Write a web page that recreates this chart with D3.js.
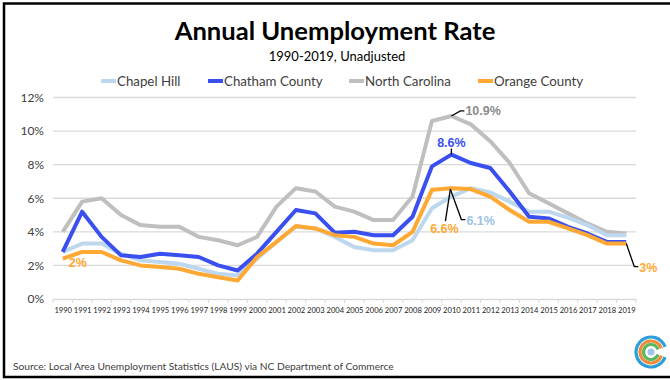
<!DOCTYPE html>
<html><head><meta charset="utf-8">
<script src="https://cdn.jsdelivr.net/npm/d3@7"></script>
<style>html,body{margin:0;padding:0;background:#fff;}svg{display:block;}</style>
</head><body>
<script>
const years = d3.range(1990, 2020).map(String);
const seriesNames = ["Chapel Hill", "Chatham County", "North Carolina", "Orange County"];
const chapelHill = [2.8,3.3,3.3,2.7,2.3,2.2,2.1,1.8,1.5,1.4,2.4,3.4,4.3,4.2,3.7,3.1,2.9,2.9,3.5,5.4,6.1,6.6,6.35,5.8,5.2,5.2,4.85,4.4,3.8,3.8];
const chatham = [2.8,5.2,3.7,2.6,2.5,2.7,2.6,2.5,2.0,1.7,2.7,4.0,5.3,5.1,3.95,4.0,3.8,3.8,4.9,7.9,8.6,8.1,7.8,6.4,4.9,4.8,4.3,3.9,3.4,3.4];
const northCarolina = [4.0,5.8,6.0,5.0,4.4,4.3,4.3,3.7,3.5,3.2,3.7,5.5,6.6,6.4,5.5,5.2,4.7,4.7,6.1,10.6,10.9,10.4,9.4,8.1,6.3,5.7,5.1,4.5,4.0,3.9];
const orange = [2.4,2.8,2.8,2.3,2.0,1.9,1.8,1.5,1.3,1.1,2.5,3.4,4.35,4.2,3.8,3.7,3.3,3.2,4.0,6.5,6.6,6.55,6.1,5.3,4.6,4.6,4.2,3.8,3.3,3.3];
const yTicks = [0,2,4,6,8,10,12];
const colors = ["#bdd7ee", "#3a4ff0", "#bfbfbf", "#ffa833"];

const W = 670, H = 380;
const svg = d3.select("body").append("svg").attr("width", W).attr("height", H);
svg.append("rect").attr("width", W).attr("height", H).attr("fill", "#fff");
// frame (right side cut off in the reference)
svg.append("rect").attr("x", 4).attr("y", 3.5).attr("width", 680).attr("height", 373.5)
  .attr("fill", "none").attr("stroke", "#000").attr("stroke-width", 2.5);

const x = d3.scalePoint().domain(years).range([53, 636]).padding(0.5);
const y = d3.scaleLinear().domain([0, 12]).range([299, 97.5]);

// title
svg.append("text").attr("x", 335).attr("y", 40).attr("text-anchor", "middle")
  .attr("font-family", "Lato, 'Open Sans', sans-serif").attr("font-weight", "bold")
  .attr("font-size", 25.6).attr("fill", "#000").text("Annual Unemployment Rate");
svg.append("text").attr("x", 337).attr("y", 61).attr("text-anchor", "middle")
  .attr("font-family", "Lato, sans-serif").attr("font-size", 13).attr("fill", "#000")
  .text("1990-2019, Unadjusted");

// legend
const legX = [101, 208, 349, 478];
const leg = svg.append("g");
seriesNames.forEach((n, i) => {
  leg.append("line").attr("x1", legX[i]).attr("x2", legX[i] + 15).attr("y1", 81).attr("y2", 81)
    .attr("stroke", colors[i]).attr("stroke-width", 4);
  leg.append("text").attr("x", legX[i] + 16).attr("y", 86).attr("font-family", "Lato, sans-serif")
    .attr("font-size", 13.3).attr("fill", "#404040").text(n);
});

// gridlines
const g = svg.append("g");
g.selectAll("line.grid").data(yTicks.filter(d => d > 0)).join("line").attr("class", "grid")
  .attr("x1", 53).attr("x2", 636).attr("y1", d => y(d)).attr("y2", d => y(d))
  .attr("stroke", "#d9d9d9").attr("stroke-width", 1.3);

// y axis
const yAxis = d3.axisLeft(y).tickValues(yTicks).tickFormat(d => d + "%").tickSize(0).tickPadding(0);
const ya = svg.append("g").attr("transform", "translate(44,0)").call(yAxis);
ya.select(".domain").remove();
ya.selectAll("text").attr("font-family", "Lato, sans-serif").attr("font-size", 12).attr("fill", "#404040");

// x axis
const xAxis = d3.axisBottom(x).tickSize(0).tickPadding(9);
const xa = svg.append("g").attr("transform", "translate(0,299)").call(xAxis);
xa.select(".domain").attr("stroke", "#d9d9d9").attr("stroke-width", 1.3);
xa.selectAll("text").attr("font-family", "Lato, sans-serif").attr("font-size", 7.6).attr("fill", "#222");
// tick marks at category boundaries
const bounds = years.map(yy => x(yy) - x.step() / 2).concat([x(years[years.length - 1]) + x.step() / 2]);
xa.selectAll("line.bnd").data(bounds).join("line").attr("class", "bnd")
  .attr("x1", d => d).attr("x2", d => d).attr("y1", 0).attr("y2", 4)
  .attr("stroke", "#d9d9d9").attr("stroke-width", 1);

// lines
const data = [chapelHill, chatham, northCarolina, orange];
const line = d3.line().x((d, i) => x(years[i])).y(d => y(d));
const drawOrder = [2, 0, 1, 3];
drawOrder.forEach(i => {
  svg.append("path").datum(data[i]).attr("d", line).attr("fill", "none")
    .attr("stroke", colors[i]).attr("stroke-width", 4).attr("stroke-linejoin", "round");
});

// annotations
const ann = svg.append("g").attr("font-family", "'Liberation Sans', Arial, sans-serif")
  .attr("font-weight", "bold").attr("font-size", 12.5);
const i2010 = years.indexOf("2010"), i2019 = years.indexOf("2019");
const px = x("2010");
function leader(pts) {
  ann.append("path").attr("d", d3.line()(pts)).attr("fill", "none").attr("stroke", "#000").attr("stroke-width", 1.3);
}
// 10.9
leader([[px, y(northCarolina[i2010])], [px + 9, y(northCarolina[i2010]) - 5], [px + 13, y(northCarolina[i2010]) - 5]]);
ann.append("text").attr("x", px + 14).attr("y", y(northCarolina[i2010]) - 0.5).attr("fill", "#8c8c8c").text("10.9%");
// 8.6
leader([[px, y(chatham[i2010])], [px, y(chatham[i2010]) - 6]]);
ann.append("text").attr("x", px).attr("y", y(chatham[i2010]) - 8).attr("text-anchor", "middle").attr("fill", "#3a4ff0").text("8.6%");
// 6.1
leader([[px - 1, y(orange[i2010]) + 1], [px + 10, y(chapelHill[i2010]) + 23], [px + 14, y(chapelHill[i2010]) + 23]]);
ann.append("text").attr("x", px + 15).attr("y", y(chapelHill[i2010]) + 28).attr("fill", "#9dc3e6").text("6.1%");
// 6.6
leader([[px - 1, y(orange[i2010]) + 1], [px - 6, y(orange[i2010]) + 33]]);
ann.append("text").attr("x", px - 7).attr("y", y(orange[i2010]) + 45).attr("text-anchor", "middle").attr("fill", "#ffa833").text("6.6%");
// 3%
const x19 = x("2019");
leader([[x19, y(orange[i2019])], [x19 + 8, y(orange[i2019]) + 23], [x19 + 12, y(orange[i2019]) + 23]]);
ann.append("text").attr("x", x19 + 13).attr("y", y(orange[i2019]) + 28).attr("fill", "#ffa833").text("3%");
// 2%
ann.append("text").attr("x", x("1990") + 6).attr("y", y(orange[0]) + 8).attr("fill", "#ffa833").text("2%");

// source
svg.append("text").attr("x", 13).attr("y", 370).attr("font-family", "Lato, sans-serif")
  .attr("font-size", 10.2).attr("fill", "#404040")
  .text("Source: Local Area Unemployment Statistics (LAUS) via NC Department of Commerce");

// logo
const logo = svg.append("g").attr("transform", "translate(651,352)");
const arcs = [{r: 15, c: "#2a9fd8"}, {r: 11, c: "#f08a3c"}, {r: 7.5, c: "#5cb85c"}];
arcs.forEach(a => {
  logo.append("path").attr("d", d3.arc().innerRadius(a.r - 1.6).outerRadius(a.r + 1.6)
    .startAngle(0.35).endAngle(2 * Math.PI - 0.35)())
    .attr("transform", "rotate(90)").attr("fill", a.c);
});
logo.append("circle").attr("r", 3.5).attr("fill", "#9fc5e8");
</script>
</body></html>
